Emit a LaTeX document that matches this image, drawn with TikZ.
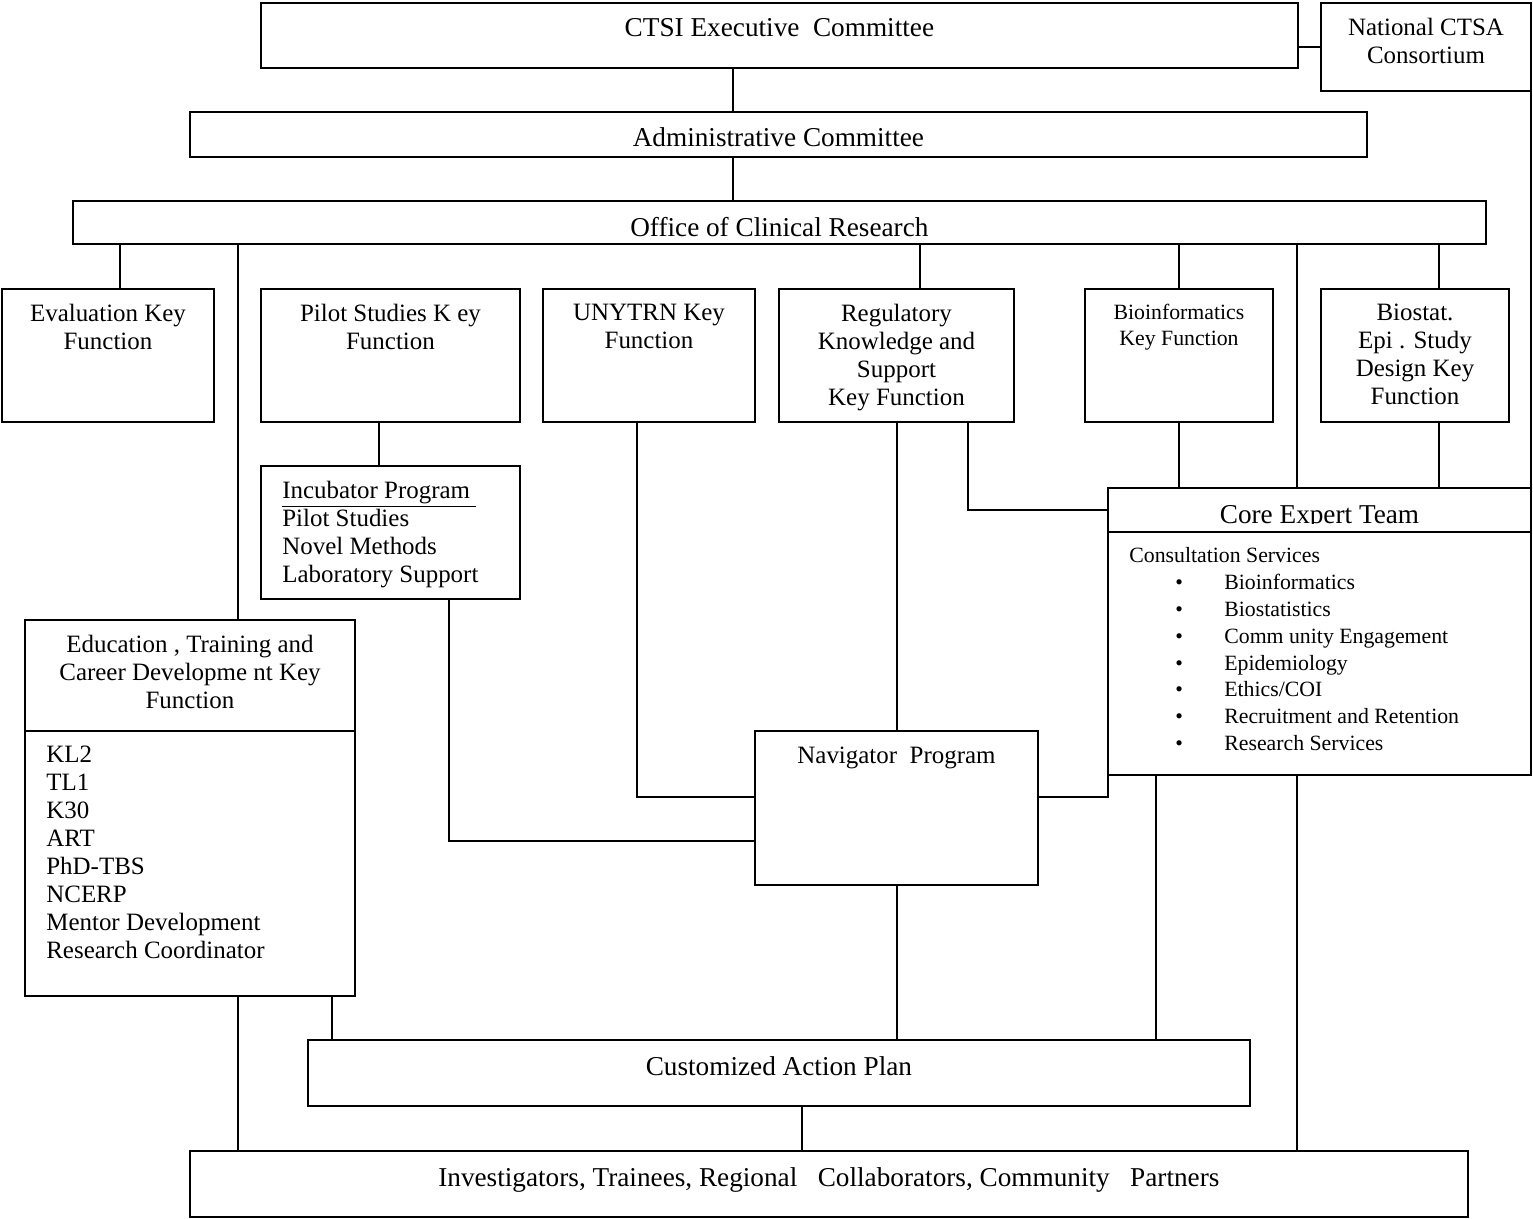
\documentclass[tikz,border=0pt]{standalone}
\usepackage{fontspec}
\setmainfont{Liberation Serif}
\usetikzlibrary{positioning}

\begin{document}
\begin{tikzpicture}[
          x=0.02cm, y=-0.02cm,
          box/.style={draw=black,line width=1.1pt,anchor=north west,inner sep=0pt,outer sep=0pt},
          link/.style={draw=black,line width=0.95pt},
          bigtxt/.style={font=\fontsize{15.5}{17}\selectfont,align=center,inner sep=0pt},
          txt/.style={font=\fontsize{14.2}{15.9}\selectfont,align=center,inner sep=0pt},
          smalltxt/.style={font=\fontsize{12.4}{14.7}\selectfont,align=center,inner sep=0pt},
          listtxt/.style={font=\fontsize{12.4}{15.3}\selectfont,align=left,inner sep=0pt},
        ]

        \useasboundingbox (0,0) rectangle (1533,1218);

        \node[box,minimum width=20.74cm,minimum height=1.30cm] (ctsi) at (261,3) {};
        \node[box,minimum width=4.20cm,minimum height=1.76cm] (ctsa) at (1321,3) {};
        \node[box,minimum width=23.54cm,minimum height=0.90cm] (admin) at (190,112) {};
        \node[box,minimum width=28.26cm,minimum height=0.86cm] (ocr) at (73,201) {};
        \node[box,minimum width=4.24cm,minimum height=2.66cm] (eval) at (2,289) {};
        \node[box,minimum width=5.18cm,minimum height=2.66cm] (pilot) at (261,289) {};
        \node[box,minimum width=4.24cm,minimum height=2.66cm] (unytrn) at (543,289) {};
        \node[box,minimum width=4.70cm,minimum height=2.66cm] (regul) at (779,289) {};
        \node[box,minimum width=3.76cm,minimum height=2.66cm] (bioinf) at (1085,289) {};
        \node[box,minimum width=3.76cm,minimum height=2.66cm] (biostat) at (1321,289) {};
        \node[box,minimum width=5.18cm,minimum height=2.66cm] (incub) at (261,466) {};
        \node[box,minimum width=8.46cm,minimum height=0.88cm] (corehead) at (1108,488) {};
        \node[box,minimum width=8.46cm,minimum height=4.86cm,below=0pt of corehead] (corebody) {};
        \node[box,minimum width=6.60cm,minimum height=2.22cm] (eduhead) at (25,620) {};
        \node[box,minimum width=6.60cm,minimum height=5.30cm,below=0pt of eduhead] (edubody) {};
        \node[box,minimum width=5.66cm,minimum height=3.08cm] (nav) at (755,731) {};
        \node[box,minimum width=18.84cm,minimum height=1.32cm] (plan) at (308,1040) {};
        \node[box,minimum width=25.56cm,minimum height=1.32cm] (invest) at (190,1151) {};

        \node[bigtxt,below=0.31cm of ctsi.north] (ctsitxt) {CTSI Executive\ \ Committee};
        \node[txt,below=0.30cm of ctsa.north] (ctsatxt) {National CTSA\\Consortium};
        \node[bigtxt,below=0.31cm of admin.north] (admintxt) {Administrative Committee};
        \node[bigtxt,below=0.32cm of ocr.north] (ocrtxt) {Office of Clinical Research};
        \node[txt,below=0.30cm of eval.north] (evaltxt) {Evaluation Key\\Function};
        \node[txt,below=0.30cm of pilot.north] (pilottxt) {Pilot Studies K ey\\Function};
        \node[txt,below=0.30cm of unytrn.north] (unytrntxt) {UNYTRN Key\\Function};
        \node[txt,below=0.30cm of regul.north] (regultxt) {Regulatory\\Knowledge and\\Support\\Key Function};
        \node[smalltxt,below=0.30cm of bioinf.north] (bioinftxt) {Bioinformatics\\Key Function};
        \node[txt,below=0.30cm of biostat.north] (biostattxt) {Biostat.\\Epi . Study\\Design Key\\Function};
        \node[txt,align=left,below right=0.30cm and 0.42cm of incub.north west] (incubtxt) {\underline{Incubator Program\ }\\Pilot Studies\\Novel Methods\\Laboratory Support};
        \begin{scope}
          \clip (corehead.north west) rectangle ([yshift=0.18cm]corehead.south east);
          \node[bigtxt,anchor=base] (coretxt) at ([yshift=0.18cm]corehead.south) {Core Expert Team};
        \end{scope}
        \node[listtxt,below right=0.30cm and 0.42cm of corebody.north west] (corelist) {Consultation Services\\
          \hspace*{0.92cm}\makebox[0.98cm][l]{\textbullet}Bioinformatics\\
          \hspace*{0.92cm}\makebox[0.98cm][l]{\textbullet}Biostatistics\\
          \hspace*{0.92cm}\makebox[0.98cm][l]{\textbullet}Comm unity Engagement\\
          \hspace*{0.92cm}\makebox[0.98cm][l]{\textbullet}Epidemiology\\
          \hspace*{0.92cm}\makebox[0.98cm][l]{\textbullet}Ethics/COI\\
          \hspace*{0.92cm}\makebox[0.98cm][l]{\textbullet}Recruitment and Retention\\
          \hspace*{0.92cm}\makebox[0.98cm][l]{\textbullet}Research Services};
        \node[txt,below=0.30cm of eduhead.north] (eduheadtxt) {Education , Training and\\Career Developme nt Key\\Function};
        \node[txt,align=left,below right=0.30cm and 0.42cm of edubody.north west] (edubodytxt) {KL2\\TL1\\K30\\ART\\PhD-TBS\\NCERP\\Mentor Development\\Research Coordinator};
        \node[txt,below=0.32cm of nav.north] (navtxt) {Navigator\ \ Program};
        \node[bigtxt,below=0.32cm of plan.north] (plantxt) {Customized Action Plan};
        \node[bigtxt,below=0.32cm of invest.north] (investtxt) {Investigators, Trainees, Regional\ \ \ Collaborators, Community\ \ \ Partners};

        \draw[link] (ctsi.south -| 733,0) -- (admin.north -| 733,0);
        \draw[link] (ctsi.east |- 0,47) -- (ctsa.west |- 0,47);
        \draw[link] (ctsa.south east) -- (corehead.north east);
        \draw[link] (admin.south -| 733,0) -- (ocr.north -| 733,0);
        \draw[link] (ocr.south -| 120,0) -- (eval.north -| 120,0);
        \draw[link] (ocr.south -| 238,0) -- (eduhead.north -| 238,0);
        \draw[link] (ocr.south -| 920,0) -- (regul.north -| 920,0);
        \draw[link] (ocr.south -| 1179,0) -- (bioinf.north -| 1179,0);
        \draw[link] (ocr.south -| 1297,0) -- (corehead.north -| 1297,0);
        \draw[link] (ocr.south -| 1439,0) -- (biostat.north -| 1439,0);
        \draw[link] (pilot.south -| 379,0) -- (incub.north -| 379,0);
        \draw[link] (unytrn.south -| 637,0) |- (nav.west |- 0,797);
        \draw[link] (incub.south -| 449,0) |- (nav.west |- 0,841);
        \draw[link] (regul.south -| 897,0) -- (nav.north -| 897,0);
        \draw[link] (regul.south -| 968,0) |- (corehead.west |- 0,510);
        \draw[link] (bioinf.south -| 1179,0) -- (corehead.north -| 1179,0);
        \draw[link] (biostat.south -| 1439,0) -- (corehead.north -| 1439,0);
        \draw[link] (nav.east |- 0,797) -| (corebody.south west);
        \draw[link] (corebody.south -| 1156,0) -- (plan.north -| 1156,0);
        \draw[link] (corebody.south -| 1297,0) -- (invest.north -| 1297,0);
        \draw[link] (nav.south -| 897,0) -- (plan.north -| 897,0);
        \draw[link] (edubody.south -| 238,0) -- (invest.north -| 238,0);
        \draw[link] (edubody.south -| 332,0) -- (plan.north -| 332,0);
        \draw[link] (plan.south -| 802,0) -- (invest.north -| 802,0);

      \end{tikzpicture}
\end{document}
